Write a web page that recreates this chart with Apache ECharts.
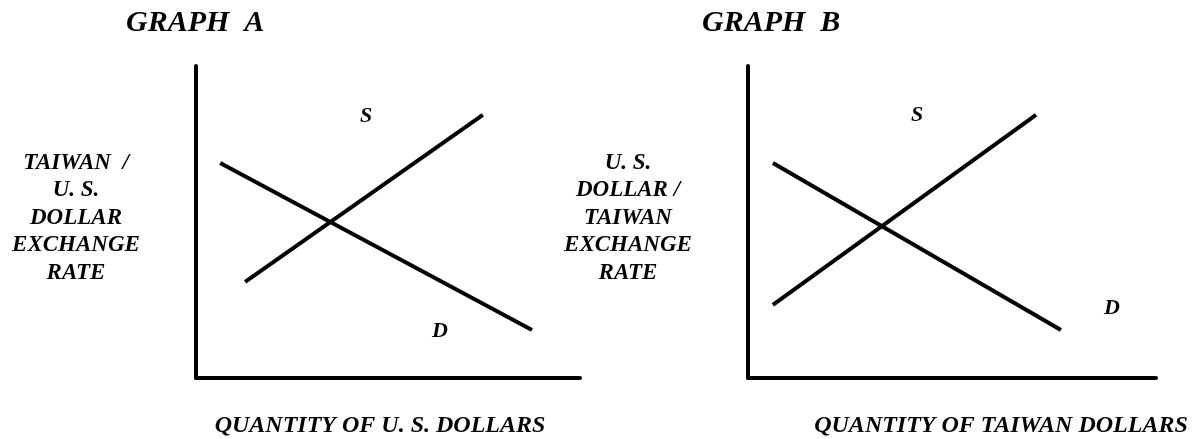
<!DOCTYPE html>
<html>
<head>
<meta charset="utf-8">
<script src="https://cdn.jsdelivr.net/npm/echarts@6/dist/echarts.min.js"></script>
<style>
  html, body { margin: 0; padding: 0; background: #fff; }
  #grafico { width: 1197px; height: 439px; }
</style>
</head>
<body>
<div id="grafico"></div>
<script>
// Datos (escala 0-100 en cada eje)
const ofertaA = [[12.8, 30.8], [74.7, 84.3]];
const demandaA = [[6.3, 68.9], [87.5, 15.4]];
const ofertaB = [[6.1, 23.4], [70.6, 84.3]];
const demandaB = [[6.1, 68.9], [76.7, 15.4]];

const titulos = ['GRAPH  A', 'GRAPH  B'];
const etiquetasY = [
  'TAIWAN  /\nU. S.\nDOLLAR\nEXCHANGE\nRATE',
  'U. S.\nDOLLAR /\nTAIWAN\nEXCHANGE\nRATE'
];
const etiquetasX = ['QUANTITY OF U. S. DOLLARS', 'QUANTITY OF TAIWAN DOLLARS'];

const fuente = "'Liberation Serif', 'Times New Roman', serif";

function texto(str, x, y, size, extra) {
  return {
    type: 'text',
    x: x,
    y: y,
    silent: true,
    style: Object.assign({
      text: str,
      fill: '#000',
      font: 'italic bold ' + size + 'px ' + fuente,
      align: 'center',
      verticalAlign: 'middle'
    }, extra || {})
  };
}

const ejeX = (idx) => ({
  type: 'value', gridIndex: idx, min: 0, max: 100,
  axisLine: { show: true, lineStyle: { color: '#000', width: 4 } },
  axisTick: { show: false }, axisLabel: { show: false }, splitLine: { show: false }
});
const ejeY = ejeX;

function linea(idx, data) {
  return {
    type: 'line',
    xAxisIndex: idx,
    yAxisIndex: idx,
    data: data,
    symbol: 'none',
    silent: true,
    lineStyle: { color: '#000', width: 4 }
  };
}

const chart = echarts.init(document.getElementById('grafico'));

chart.setOption({
  animation: false,
  backgroundColor: '#fff',
  grid: [
    { left: 196, top: 66, width: 384, height: 312 },
    { left: 748, top: 66, width: 408, height: 312 }
  ],
  xAxis: [ejeX(0), ejeX(1)],
  yAxis: [ejeY(0), ejeY(1)],
  series: [
    linea(0, ofertaA),
    linea(0, demandaA),
    linea(1, ofertaB),
    linea(1, demandaB)
  ],
  graphic: [
    texto(titulos[0], 126, 23, 30, { align: 'left' }),
    texto(titulos[1], 702, 23, 30, { align: 'left' }),
    texto(etiquetasY[0], 76, 218, 23, { lineHeight: 27.5 }),
    texto(etiquetasY[1], 628, 218, 23, { lineHeight: 27.5 }),
    texto(etiquetasX[0], 380, 426, 24),
    texto(etiquetasX[1], 1001, 426, 24),
    texto('S', 366, 116, 22),
    texto('D', 440, 331, 22),
    texto('S', 917, 115, 22),
    texto('D', 1112, 308, 22)
  ]
});
</script>
</body>
</html>
